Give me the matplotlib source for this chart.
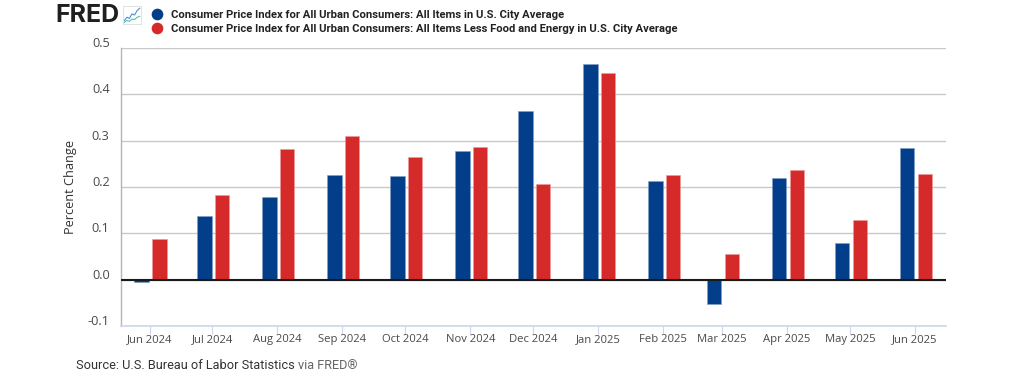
import datetime as dt
import matplotlib
matplotlib.use('Agg')
import matplotlib.pyplot as plt
import matplotlib.dates as mdates
from matplotlib.transforms import ScaledTranslation

# Datos
months = ['2024-06-01', '2024-07-01', '2024-08-01', '2024-09-01', '2024-10-01',
          '2024-11-01', '2024-12-01', '2025-01-01', '2025-02-01', '2025-03-01',
          '2025-04-01', '2025-05-01', '2025-06-01']
month_labels = ['Jun 2024', 'Jul 2024', 'Aug 2024', 'Sep 2024', 'Oct 2024', 'Nov 2024', 'Dec 2024',
                'Jan 2025', 'Feb 2025', 'Mar 2025', 'Apr 2025', 'May 2025', 'Jun 2025']
all_items = [-0.005, 0.137, 0.178, 0.226, 0.224, 0.278, 0.364, 0.465, 0.213, -0.052, 0.220, 0.079, 0.285]
core = [0.088, 0.183, 0.282, 0.310, 0.265, 0.287, 0.207, 0.446, 0.225, 0.055, 0.236, 0.128, 0.228]
y_ticks = [-0.1, 0.0, 0.1, 0.2, 0.3, 0.4, 0.5]
y_labels = ['-0.1', '0.0', '0.1', '0.2', '0.3', '0.4', '0.5']
legend_names = ['Consumer Price Index for All Urban Consumers: All Items in U.S. City Average',
                'Consumer Price Index for All Urban Consumers: All Items Less Food and Energy in U.S. City Average']

BLUE = '#023e8a'
RED = '#d62a2a'
W, H = 1024, 373

dates = [mdates.date2num(dt.date.fromisoformat(m)) for m in months]

fig = plt.figure(figsize=(W / 100, H / 100), dpi=100)
ax = fig.add_axes([120.5 / W, 1 - 326 / H, (945.5 - 120.5) / W, (326 - 48) / H])

# Escala temporal: 2.097 px por dia
px_day = (915 - 149.5) / (dates[-1] - dates[0])
bar_w = 14.5 / px_day
ax.bar([d - 8 / px_day for d in dates], all_items, width=bar_w, color=BLUE,
       edgecolor='#7f9ec4', linewidth=0.4, zorder=3)
ax.bar([d + 9.8 / px_day for d in dates], core, width=bar_w, color=RED,
       edgecolor='#eb9a9a', linewidth=0.4, zorder=3)
ax.axhline(0, color='#1a1a1a', lw=1.5, zorder=4)

ax.set_xlim(dates[0] - 29 / px_day, dates[0] + 796 / px_day)
ax.set_ylim(-0.1, 0.5)

ax.set_yticks(y_ticks)
ax.set_yticklabels(y_labels, fontfamily='Open Sans', fontsize=9.2, color='#4a4a4a')
ax.set_xticks(dates)
ax.set_xticklabels(month_labels, fontfamily='Open Sans', fontsize=8.1, color='#4a4a4a', va='baseline')
ax.tick_params(axis='y', length=0, pad=7.8)
ax.tick_params(axis='x', length=5.8, width=0.8, color='#ccd6eb', pad=5.8)
for lab in ax.get_yticklabels():
    lab.set_transform(lab.get_transform() + ScaledTranslation(0, 0.06, fig.dpi_scale_trans))

ax.grid(axis='y', color='#c9c9c9', lw=1.0, zorder=0)
for s in ['top', 'right']:
    ax.spines[s].set_visible(False)
ax.spines['left'].set_color('#b5b5b5')
ax.spines['left'].set_linewidth(1.0)
ax.spines['bottom'].set_color('#ccd6eb')
ax.spines['bottom'].set_linewidth(1.2)

fig.text(70.5 / W, 1 - 187 / H, 'Percent Change', rotation=90, ha='center', va='center',
         fontfamily='Open Sans', fontsize=9.2, color='#333333')

# Cabecera: logo y leyenda
fig.text(55 / W, 1 - 15 / H, 'FRED', fontfamily='Inter', fontweight='bold', fontsize=18,
         color='#1f1f1f', ha='left', va='center')
icon = fig.add_axes([123 / W, 1 - 24 / H, 18 / W, 18 / H])
icon.plot([0, 1, 2, 3, 4, 5, 6], [1.5, 3, 2.5, 4.5, 4, 6, 7], color='#4d8fd6', lw=0.8)
icon.plot([0, 1, 2, 3, 4, 5, 6], [0.7, 1.6, 1.2, 2.2, 2, 3, 3.4], color='#5cc0b0', lw=0.8)
icon.set_xlim(-0.5, 6.5)
icon.set_ylim(0, 8)
icon.set_xticks([])
icon.set_yticks([])
for s in icon.spines.values():
    s.set_color('#dddddd')
    s.set_linewidth(0.6)

for name, color, y in zip(legend_names, [BLUE, RED], [14, 28]):
    fig.add_artist(plt.Line2D([156.5 / W], [1 - y / H], marker='o', ms=8.4, color=color, mew=0,
                              transform=fig.transFigure))
    fig.text(171 / W, 1 - (y + 0.5) / H, name, fontfamily='Roboto', fontweight='bold', fontsize=8.07,
             color='#222222', ha='left', va='center')

# Fuente
fig.text(76 / W, 1 - 365.5 / H, 'Source: U.S. Bureau of Labor Statistics', fontfamily='Roboto',
         fontsize=9.2, color='#333333', ha='left', va='center')
fig.text(298 / W, 1 - 365.5 / H, 'via FRED®', fontfamily='Roboto', fontsize=9.2,
         color='#666666', ha='left', va='center')

fig.savefig('out.png', dpi=100)
